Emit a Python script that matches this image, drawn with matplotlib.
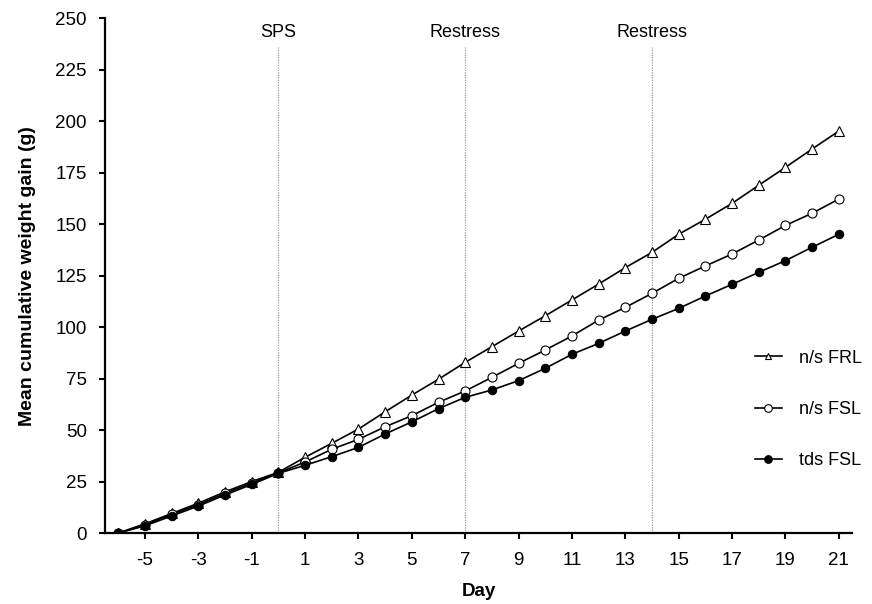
import matplotlib
matplotlib.use("Agg")
import matplotlib.pyplot as plt
from matplotlib.lines import Line2D

plt.rcParams['font.family'] = ['Liberation Sans', 'DejaVu Sans']
plt.rcParams['axes.unicode_minus'] = False

days = list(range(-6, 22))
frl = [0, 4.5, 9.5, 14.5, 20, 25, 29.5,
       36.8, 43.6, 50.5, 58.9, 67, 74.7, 82.9,
       90.5, 98.1, 105.5, 113.2, 120.9, 128.9, 136.3,
       145.1, 152.4, 160.1, 168.9, 177.6, 186.5, 195.2]
ns_fsl = [0, 4, 9, 13.8, 19.2, 24.3, 29.2,
          34.5, 40.7, 45.5, 51.6, 57, 63.5, 69,
          75.6, 82.4, 88.9, 95.7, 103.4, 109.6, 116.4,
          123.7, 129.7, 135.5, 142.3, 149.4, 155.3, 162.2]
tds_fsl = [0, 3.5, 8.3, 13.1, 18.5, 23.6, 29,
           32.9, 37.1, 41.6, 48.1, 54, 60.4, 65.9,
           69.5, 74, 80, 86.8, 92.1, 98.1, 103.8,
           109.1, 115.1, 120.8, 126.6, 132.3, 138.8, 145.1]
series_labels = ["n/s FRL", "n/s FSL", "tds FSL"]
event_days = [0, 7, 14]
event_labels = ["SPS", "Restress", "Restress"]
xticks = list(range(-5, 22, 2))
yticks = list(range(0, 251, 25))

fig = plt.figure(figsize=(8.72, 6.04), dpi=100)
ax = fig.add_axes([0.1204, 0.1175, 0.8568, 0.8522])

for d, lab in zip(event_days, event_labels):
    ax.plot([d, d], [0, 236], color='#999999', lw=0.9, ls=(0, (1, 1)), zorder=1)
    ax.text(d, 243, lab, ha='center', va='center', fontsize=13)

ax.plot(days, frl, color='black', lw=1.2, marker='^', ms=6.5,
        mfc='white', mec='black', mew=0.8, zorder=3)
ax.plot(days, ns_fsl, color='black', lw=1.2, marker='o', ms=6.5,
        mfc='white', mec='black', mew=0.8, zorder=3)
ax.plot(days, tds_fsl, color='black', lw=1.2, marker='o', ms=6,
        mfc='black', mec='black', mew=0.8, zorder=4)

ax.set_xlim(-6.5, 21.5)
ax.set_ylim(0, 250)
ax.set_xticks(xticks)
ax.set_yticks(yticks)
ax.spines['top'].set_visible(False)
ax.spines['right'].set_visible(False)
for s in ['left', 'bottom']:
    ax.spines[s].set_linewidth(1.6)
ax.tick_params(axis='both', direction='out', length=4, width=1.5,
               labelsize=13.5)
ax.tick_params(axis='x', pad=10)
ax.tick_params(axis='y', pad=9)
ax.set_xlabel("Day", fontsize=13.5, fontweight='bold', labelpad=10)
ax.set_ylabel("Mean cumulative weight gain (g)", fontsize=14,
              fontweight='bold', labelpad=14)

handles = [
    Line2D([], [], color='black', lw=1.2, marker='^', ms=5, mfc='white', mec='black', mew=0.8),
    Line2D([], [], color='black', lw=1.2, marker='o', ms=5.5, mfc='white', mec='black', mew=0.8),
    Line2D([], [], color='black', lw=1.2, marker='o', ms=5.5, mfc='black', mec='black', mew=0.8),
]
ax.legend(handles, series_labels, loc='center left', bbox_to_anchor=(0.848, 0.24),
          frameon=False, fontsize=13, handlelength=1.5, handletextpad=0.95,
          labelspacing=1.9)

fig.savefig("out.png", dpi=100)
